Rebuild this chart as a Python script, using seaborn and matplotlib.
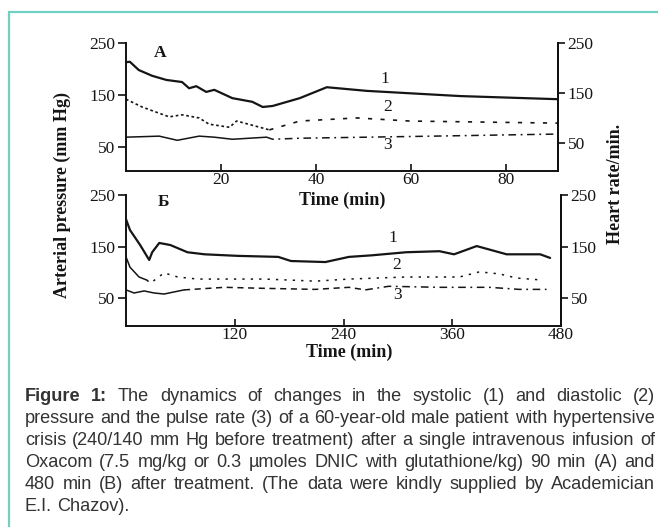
import matplotlib
matplotlib.use("Agg")
import matplotlib.pyplot as plt
from matplotlib.lines import Line2D
import seaborn as sns

# ---------------- data ----------------
# Panel A: 0-90 min
tA_sys = [0, 0.8, 2.7, 5.5, 8.5, 11.8, 13.3, 14.8, 16.9, 18.6, 22.4, 26.6, 28.8, 30.9, 36.6, 42.3, 50.7, 70.4, 90.9]
sysA = [213, 214, 198, 187, 179, 175, 163, 167, 156, 160, 144, 137, 127, 129, 144, 165, 158, 148, 142]

tA_dia = [0, 3.4, 9.1, 11.8, 15.4, 17.5, 21.8, 23.3, 26.6, 30.2, 36.6, 48.6, 59.8, 90.9]
diaA = [142, 127, 108, 112, 106, 94, 88, 100, 92, 83, 100, 106, 100, 96]

tA_pul = [0, 7, 10.8, 15.4, 18.6, 22.4, 29.6, 30.9, 36.6, 50.7, 64.7, 90.9]
pulA = [69, 71, 63, 71, 69, 65, 69, 65, 67, 69, 71, 75]

# Panel B: 0-480 min
tB_sys = [0, 4.4, 15.6, 25.6, 28.9, 36.7, 48.9, 67.8, 86.7, 123, 168, 182, 220, 246, 271, 309, 346, 362, 387, 420, 457, 468]
sysB = [203, 182, 153, 124, 139, 157, 153, 139, 135, 132, 130, 122, 120, 130, 133, 139, 141, 135, 151, 135, 135, 128]

tB_dia = [0, 4.4, 14.4, 23, 27, 42, 57, 79, 153, 209, 246, 309, 368, 390, 412, 431, 460]
diaB = [130, 110, 91, 85, 79, 99, 91, 87, 87, 83, 87, 91, 91, 101, 97, 89, 85]

tB_pul = [0, 8.9, 20, 31, 42, 64, 109, 153, 209, 246, 264, 290, 346, 401, 434, 464]
pulB = [66, 60, 64, 60, 58, 66, 71, 69, 67, 71, 66, 73, 71, 71, 67, 67]

yticks = [50, 150, 250]
xticksA = [20, 40, 60, 80]
xticksB = [120, 240, 360, 480]

caption_lines = [
    "Figure 1: The dynamics of changes in the systolic (1) and diastolic (2)",
    "pressure and the pulse rate (3) of a 60-year-old male patient with hypertensive",
    "crisis (240/140 mm Hg before treatment) after a single intravenous infusion of",
    "Oxacom (7.5 mg/kg or 0.3 \u00b5moles DNIC with glutathione/kg) 90 min (A) and",
    "480 min (B) after treatment. (The data were kindly supplied by Academician",
    "E.I. Chazov).",
]

# ---------------- style ----------------
sns.set_theme(style="ticks")
plt.rcParams['font.family'] = ['Liberation Serif', 'DejaVu Serif']
plt.rcParams['axes.edgecolor'] = '#111111'
plt.rcParams['xtick.color'] = '#111111'
plt.rcParams['ytick.color'] = '#111111'

INK = '#151515'
SERIF = ['Liberation Serif', 'DejaVu Serif']
TICK_SIZE = 12.5
W, H = 658, 527
fig = plt.figure(figsize=(W / 100, H / 100), dpi=100)
fig.patch.set_facecolor('white')


def px_rect(l, t, r, b):
    return [l / W, 1 - b / H, (r - l) / W, (b - t) / H]


def fx(x):
    return x / W


def fy(y):
    return 1 - y / H


def draw(ax, t, v, pieces, lw):
    for i0, i1, ls in pieces:
        sns.lineplot(x=t[i0:i1 + 1], y=v[i0:i1 + 1], ax=ax, color=INK,
                     linewidth=lw, linestyle=ls, estimator=None, sort=False,
                     legend=False)


def style_ticklabels(ax):
    for lab in ax.get_xticklabels() + ax.get_yticklabels():
        lab.set_family(SERIF)
        lab.set_fontsize(TICK_SIZE)
        lab.set_color(INK)


def setup(ax, xlim, ylim, xticks, rlim):
    ax.set_xlim(*xlim)
    ax.set_ylim(*ylim)
    ax.set_xticks(xticks)
    ax.set_yticks(yticks)
    ax.set_xlabel('')
    ax.set_ylabel('')
    ax.spines['top'].set_visible(False)
    for s in ax.spines.values():
        s.set_linewidth(1.4)
    ax.tick_params(axis='x', direction='in', length=5, width=1.2, pad=0.5, labelsize=TICK_SIZE)
    ax.tick_params(axis='y', direction='out', length=6, width=1.2, pad=1.5, labelsize=TICK_SIZE)
    tw = ax.twinx()
    tw.set_ylim(*rlim)
    tw.set_yticks(yticks)
    for k in ['top', 'left', 'bottom']:
        tw.spines[k].set_visible(False)
    tw.spines['right'].set_linewidth(1.4)
    tw.tick_params(axis='y', direction='out', length=5, width=1.2, pad=2, labelsize=TICK_SIZE)
    ax.patch.set_alpha(0)
    tw.patch.set_alpha(0)
    style_ticklabels(ax)
    style_ticklabels(tw)
    return tw


axA = fig.add_axes(px_rect(126, 43, 558, 171))
axB = fig.add_axes(px_rect(126, 195, 561, 326))

# Panel A curves
draw(axA, tA_sys, sysA, [(0, len(tA_sys) - 1, '-')], 1.6)
draw(axA, tA_dia, diaA, [(0, 9, (0, (1.6, 1.6))), (9, len(tA_dia) - 1, (0, (2.5, 5)))], 1.2)
draw(axA, tA_pul, pulA, [(0, 6, '-'), (6, len(tA_pul) - 1, (0, (5, 3, 1.2, 3)))], 1.1)
setup(axA, (0, 91), (4, 250), xticksA, (-6, 250))

# Panel B curves
draw(axB, tB_sys, sysB, [(0, len(tB_sys) - 1, '-')], 1.6)
draw(axB, tB_dia, diaB, [(0, 3, '-'), (3, len(tB_dia) - 1, (0, (1.5, 4)))], 1.1)
draw(axB, tB_pul, pulB, [(0, 5, '-'), (5, 10, (0, (4, 3))), (10, len(tB_pul) - 1, (0, (5, 3, 1.2, 3)))], 1.1)
setup(axB, (0, 480), (-4, 250), xticksB, (-4, 250))

# ---------------- chart texts ----------------
bold_serif = dict(family=SERIF, weight='bold', color=INK)
fig.text(fx(62), fy(195), 'Arterial pressure (mm Hg)', rotation=90, ha='center', va='center', fontsize=13, **bold_serif)
fig.text(fx(616), fy(184), 'Heart rate/min.', rotation=90, ha='center', va='center', fontsize=13, **bold_serif)
fig.text(fx(342), fy(200), 'Time (min)', ha='center', va='center', fontsize=13, **bold_serif)
fig.text(fx(349), fy(352), 'Time (min)', ha='center', va='center', fontsize=13, **bold_serif)
fig.text(fx(160), fy(53), 'A', ha='center', va='center', fontsize=12.5, **bold_serif)
fig.text(fx(163), fy(202), '\u0411', ha='center', va='center', fontsize=12.5, **bold_serif)

num_kw = dict(family=SERIF, color=INK, fontsize=12.5, ha='center', va='center')
for (x, y, s) in [(385, 79, '1'), (388, 107, '2'), (388, 145, '3'),
                  (393, 238, '1'), (397, 265, '2'), (398, 295, '3')]:
    fig.text(fx(x), fy(y), s, **num_kw)

# ---------------- border ----------------
BORDER = '#72cfc3'
fig.add_artist(Line2D([fx(9), fx(9)], [0, fy(12)], transform=fig.transFigure, color=BORDER, lw=1.6))
fig.add_artist(Line2D([fx(9), 1], [fy(12), fy(12)], transform=fig.transFigure, color=BORDER, lw=1.6))

# ---------------- caption (justified) ----------------
CAP = '#333333'
cap_font = ['Liberation Sans', 'DejaVu Sans']
L, R = 25, 655
baselines = [401, 423, 445, 467, 489, 511]
renderer = fig.canvas.get_renderer()

# size the caption so that the tightest line fills the text width
probe = fig.text(0, 0, caption_lines[1], family=cap_font, fontsize=11)
w11 = probe.get_window_extent(renderer).width
probe.remove()
cap_size = 11 * (R - L - 2) / w11

for li, line in enumerate(caption_lines):
    words = line.split(' ')
    weights = ['bold' if (li == 0 and wi < 2) else 'normal' for wi in range(len(words))]
    texts = []
    widths = []
    for w, wt in zip(words, weights):
        t = fig.text(0, fy(baselines[li]), w, family=cap_font, fontsize=cap_size,
                     weight=wt, color=CAP, ha='left', va='baseline')
        texts.append(t)
        widths.append(t.get_window_extent(renderer).width)
    if li < len(caption_lines) - 1:
        gap = (R - L - sum(widths)) / (len(words) - 1)
    else:
        sp = fig.text(0, 0, 'a a', family=cap_font, fontsize=cap_size)
        aa = fig.text(0, 0, 'aa', family=cap_font, fontsize=cap_size)
        gap = sp.get_window_extent(renderer).width - aa.get_window_extent(renderer).width
        sp.remove()
        aa.remove()
    x = L
    for t, wd in zip(texts, widths):
        t.set_x(fx(x))
        x += wd + gap

fig.savefig('out.png', dpi=100)
